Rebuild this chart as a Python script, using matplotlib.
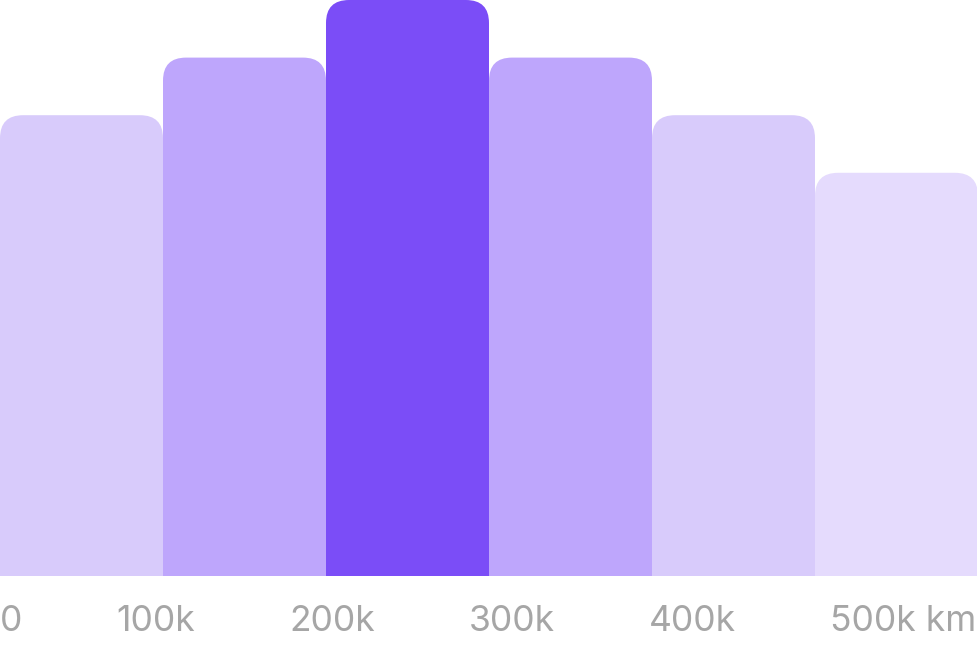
import matplotlib
matplotlib.use("Agg")
import matplotlib.pyplot as plt
from matplotlib.patches import FancyBboxPatch

categories = ["0-100k", "100k-200k", "200k-300k", "300k-400k", "400k-500k", "500k+"]
values = [8, 9, 10, 9, 8, 7]
colors = ["#D8CBFB", "#BEA6FC", "#7B4DF7", "#BEA6FC", "#D8CBFB", "#E5DBFD"]
tick_labels = ["0", "100k", "200k", "300k", "400k", "500k km"]

W, H, DPI = 978, 648, 100
fig = plt.figure(figsize=(W / DPI, H / DPI), dpi=DPI)
ax = fig.add_axes([0, 72 / H, 1, 576 / H])
ax.set_xlim(0, len(values))
ax.set_ylim(0, max(values))
ax.axis("off")

# pixel per data unit
px_x = W / len(values)
px_y = 576 / max(values)
r_px = 23
r_x = r_px / px_x
aspect = px_x / px_y

bars = ax.bar(range(len(values)), values, width=1.0, align="edge", color=colors)
for b, c in zip(bars, colors):
    x, w, h = b.get_x(), b.get_width(), b.get_height()
    b.set_visible(False)
    p = FancyBboxPatch((x, -1), w, h + 1,
                       boxstyle=f"round,pad=0,rounding_size={r_x}",
                       mutation_aspect=aspect, facecolor=c, edgecolor="none",
                       clip_on=True)
    ax.add_patch(p)

# tick labels laid out with equal gaps (space-between)
base_y = (H - 631) / H
texts = [fig.text(0, base_y, t, fontsize=25.5, color="#A6A6A6",
                  family="Inter", va="baseline", ha="left")
         for t in tick_labels]
fig.canvas.draw()
r = fig.canvas.get_renderer()
widths = [t.get_window_extent(r).width for t in texts]
left, right = 0, 976
gap = (right - left - sum(widths)) / (len(texts) - 1)
xpos = left
for t, w in zip(texts, widths):
    t.set_x(xpos / W)
    xpos += w + gap

fig.savefig("out.png", dpi=DPI)
